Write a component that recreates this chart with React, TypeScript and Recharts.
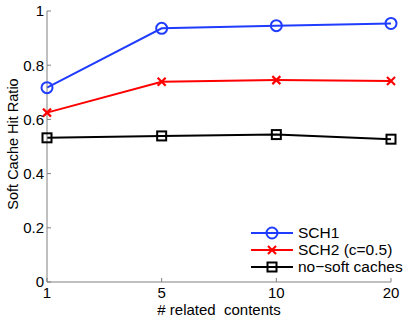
import React from "react";
import { Line, LineChart, XAxis, YAxis } from "recharts";

const categories = ["1", "5", "10", "20"];
const sch1 = [0.717, 0.936, 0.946, 0.954];
const sch2 = [0.625, 0.739, 0.745, 0.742];
const noSoft = [0.532, 0.539, 0.544, 0.527];
const yTicks = [0, 0.2, 0.4, 0.6, 0.8, 1];

const BLUE = "#1f3cff";
const RED = "#ff0000";
const BLACK = "#000000";
const FONT = "'Liberation Sans', Arial, sans-serif";

const data = categories.map((c, i) => ({
  cat: c,
  sch1: sch1[i],
  sch2: sch2[i],
  noSoft: noSoft[i],
}));

/* ---------- markers ---------- */

function CircleDot(props: any) {
  const { cx, cy } = props;
  if (cx == null || cy == null) return null;
  return <circle cx={cx} cy={cy} r={5.5} fill="none" stroke={BLUE} strokeWidth={2} />;
}

function CrossDot(props: any) {
  const { cx, cy } = props;
  if (cx == null || cy == null) return null;
  const s = 4;
  return (
    <g stroke={RED} strokeWidth={2.2}>
      <line x1={cx - s} y1={cy - s} x2={cx + s} y2={cy + s} />
      <line x1={cx - s} y1={cy + s} x2={cx + s} y2={cy - s} />
    </g>
  );
}

function SquareDot(props: any) {
  const { cx, cy } = props;
  if (cx == null || cy == null) return null;
  const s = 4.5;
  return <rect x={cx - s} y={cy - s} width={2 * s} height={2 * s} fill="none" stroke={BLACK} strokeWidth={2} />;
}

/* ---------- legend + axis titles ---------- */

const legendItems = [
  { label: "SCH1", color: BLUE, Marker: CircleDot },
  { label: "SCH2 (c=0.5)", color: RED, Marker: CrossDot },
  { label: "no\u2212soft caches", color: BLACK, Marker: SquareDot },
];

function Overlay() {
  return (
    <g fontFamily={FONT} fill="#000">
      {legendItems.map((it, i) => {
        const y = 233 + i * 17;
        return (
          <g key={it.label}>
            <line x1={251} y1={y} x2={293} y2={y} stroke={it.color} strokeWidth={2} />
            <it.Marker cx={272} cy={y} />
            <text x={298} y={y} dy="0.35em" fontSize={15.5}>
              {it.label}
            </text>
          </g>
        );
      })}
      <text x={219} y={310} dy="0.35em" textAnchor="middle" fontSize={15} xmlSpace="preserve">
        # related  contents
      </text>
      <text x={13} y={144} dy="0.35em" textAnchor="middle" fontSize={14.5} transform="rotate(-90 13 144)">
        Soft Cache Hit Ratio
      </text>
    </g>
  );
}

export default function App() {
  return (
    <div style={{ position: "absolute", left: 0, top: 0, background: "#fff" }}>
      <LineChart
        width={407}
        height={319}
        data={data}
        margin={{ top: 11, right: 16, bottom: 0, left: 0 }}
        style={{ fontFamily: FONT }}
      >
        <XAxis
          dataKey="cat"
          stroke="#808080"
          tickSize={-4}
          tickMargin={9}
          tick={{ fill: "#000", fontSize: 15 }}
          height={37}
        />
        <YAxis
          domain={[0, 1]}
          ticks={yTicks}
          tickFormatter={(v: number) => String(v)}
          stroke="#808080"
          tickSize={-4}
          tickMargin={7}
          width={47}
          tick={{ fill: "#000", fontSize: 15 }}
        />
        <Line dataKey="sch1" stroke={BLUE} strokeWidth={2} dot={<CircleDot />} isAnimationActive={false} />
        <Line dataKey="sch2" stroke={RED} strokeWidth={2} dot={<CrossDot />} isAnimationActive={false} />
        <Line dataKey="noSoft" stroke={BLACK} strokeWidth={2} dot={<SquareDot />} isAnimationActive={false} />
        <Overlay />
      </LineChart>
    </div>
  );
}
